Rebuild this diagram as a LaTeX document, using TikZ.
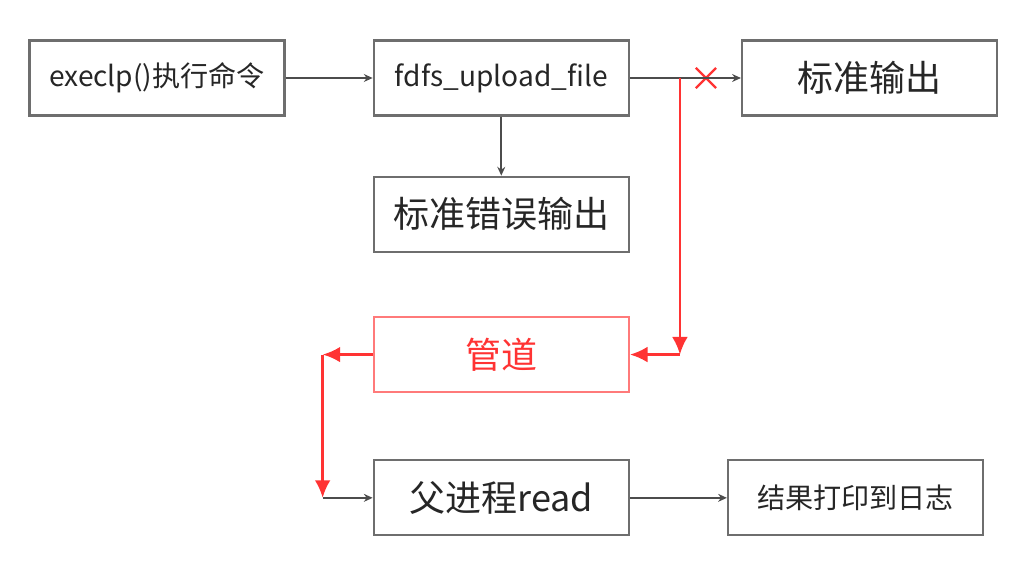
\documentclass[tikz,border=0pt]{standalone}
\usepackage{fontspec}
\newfontfamily\cjk{Noto Sans CJK SC}
\usetikzlibrary{positioning,arrows.meta,shapes.misc}
\definecolor{boxgray}{HTML}{6E6E6E}
\definecolor{pipered}{HTML}{FF3333}
\tikzset{
  box/.style={draw=boxgray, line width=1.3pt, minimum width=5.1cm, minimum height=1.5cm, font=\cjk\fontsize{16}{18}\selectfont, text=black!85},
  bigbox/.style={box, font=\cjk\fontsize{20.5}{23}\selectfont},
  link/.style={draw=black!70, line width=1pt, -{Stealth[length=5pt,width=4.5pt]}},
  redlink/.style={draw=pipered, line width=1.5pt, -{Latex[length=10pt,width=9pt]}}
}
\begin{document}
\begin{tikzpicture}
\useasboundingbox (0,0) rectangle (20.48,-11.38);
\node[box](q) at (3.14,-1.56) {execlp()执行命令};
\node[box, right=1.74cm of q](q1) {fdfs\_upload\_file};
\node[bigbox, right=2.22cm of q1](q2) {标准输出};
\node[bigbox, below=1.18cm of q1](q3) {标准错误输出};
\node[bigbox, below=1.26cm of q3, draw=pipered!65, text=pipered](q4) {管道};
\node[bigbox, below=1.32cm of q4](q5) {父进程read};
\node[box, right=1.94cm of q5](q6) {结果打印到日志};
\coordinate (t1) at ([xshift=1.0cm]q1.east);
\coordinate (t2) at (t1 |- q4.east);
\coordinate (t3) at ([xshift=-1.0cm]q4.west);
\coordinate (t4) at (t3 |- q5.west);
\node[cross out, draw=pipered, line width=1.3pt, minimum size=0.36cm, inner sep=0pt] (x) at ([xshift=1.52cm]q1.east) {};
\draw[link](q)--(q1);
\draw[link](q1)--(q2);
\draw[link](q1)--(q3);
\draw[redlink](t1)--(t2);
\draw[redlink](t2)--(q4);
\draw[redlink](q4)--(t3);
\draw[redlink](t3)--(t4);
\draw[link](t4)--(q5);
\draw[link](q5)--(q6);
\end{tikzpicture}
\end{document}
